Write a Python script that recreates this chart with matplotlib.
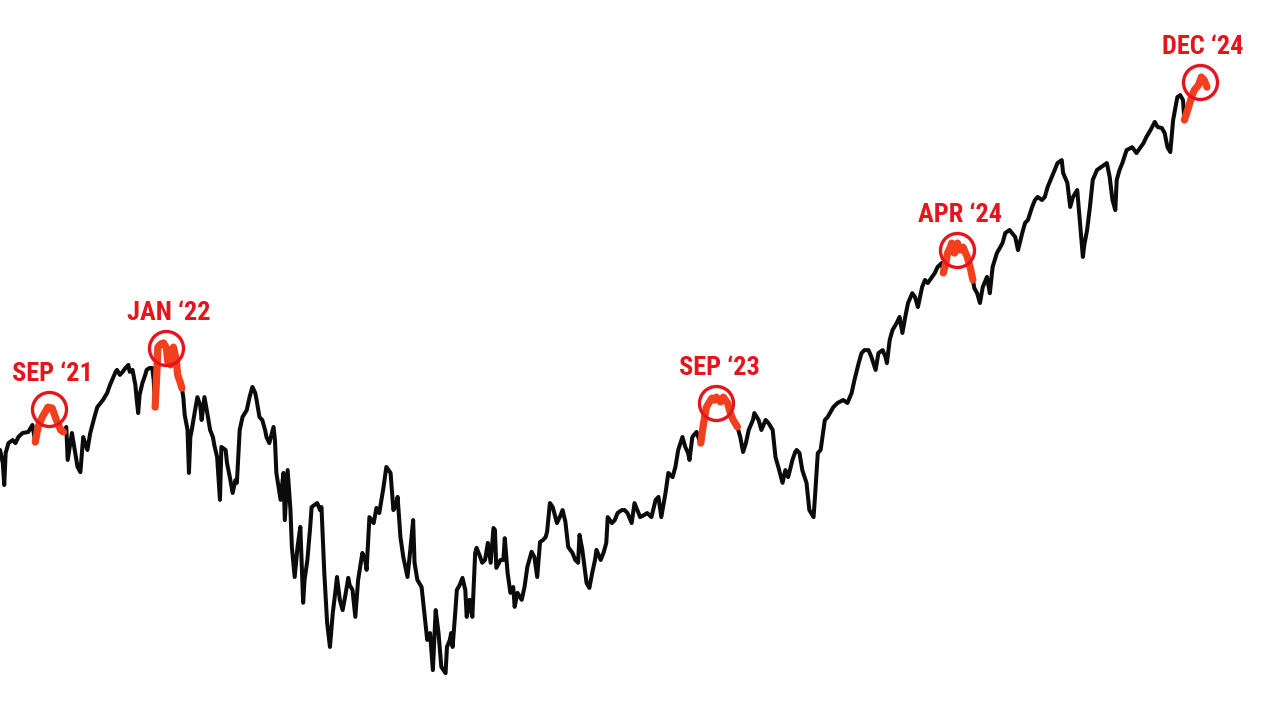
import matplotlib
matplotlib.use("Agg")
import matplotlib.pyplot as plt
from matplotlib import font_manager as fm

# ---- data: trading-session index and index level ----
session = [
    0, 2, 3, 4, 6, 9, 11, 13, 16, 20, 23,
    25, 27, 30, 34, 37, 40, 43, 45,
    47, 48, 51, 53, 55, 57, 59, 62, 64, 67, 69, 73, 76, 78, 82, 83, 85, 87, 89, 91, 92, 94, 96, 97, 98, 99,
    101, 103, 104, 106, 108, 109,
    110, 111, 112, 114, 116, 118, 119, 121, 122, 123, 125, 126, 128, 129,
    130, 131, 133, 134, 135, 136, 138, 140, 142, 143, 145, 147, 149, 151, 152, 154, 156, 157, 160, 161,
    163, 165, 167, 168, 169, 170, 172, 175, 177, 179, 181, 182, 184, 186, 188, 189, 191, 194, 195, 196,
    199, 201, 202, 204, 206, 207, 209, 211, 213, 215, 216, 218, 220, 221, 223, 225, 227, 228, 230, 232,
    234, 236, 238, 239, 241, 243, 245, 247, 248, 250, 252, 254, 257, 259, 260, 262, 265, 267, 269, 272,
    274, 277, 279, 281, 282, 284, 286, 289, 291, 293, 294, 296, 299, 301, 303, 305, 307, 309, 311, 313,
    316, 317, 319, 320, 321, 323, 324, 326, 328, 330, 331, 333, 335, 337, 338, 340, 342, 344, 346, 348,
    350, 351, 352, 355, 357, 358, 360, 362, 364, 365, 367, 370, 372, 374, 377, 379, 381, 383, 385, 387,
    388, 390, 392, 395, 397, 399, 401, 403, 406, 408, 410, 411, 413, 416, 418, 420, 422, 423, 426, 428,
    430, 431, 434, 436, 438, 441, 443, 445, 448, 450, 452, 454, 457, 459, 462, 465, 467, 469, 472, 474,
    477, 479, 481, 484, 486, 488, 489, 491, 494, 496,
    497, 499, 501, 504, 505, 507, 508, 511, 513, 516, 518, 520, 523,
    525, 527, 529, 531, 534, 535, 538, 540, 543, 545, 548, 550, 552, 555, 557, 559, 562, 564, 565, 567,
    569, 572, 574, 577, 578, 580, 582, 584, 585, 587, 591, 594, 598, 601, 604, 606, 609, 611, 613, 616,
    618, 621, 623, 626, 628, 629, 631, 633, 636, 638, 640, 642, 644, 647, 649, 651, 654, 656, 658, 661,
    663, 665, 668,
    669, 671, 672, 674, 675, 676, 677, 679, 681, 683, 686, 688, 690,
    691, 693, 695, 697, 700, 702, 704, 707, 711, 713, 716, 720, 722, 725, 727, 729, 732, 734, 736, 739,
    741, 743, 746, 748, 750, 753, 754, 757, 759, 761, 764, 765, 766, 767, 768, 769, 771, 773, 775, 778,
    781, 785, 787, 789, 791, 792, 794, 796, 799, 803, 806, 809, 811, 813, 816, 819, 821, 824, 826, 828,
    830, 832, 835, 837, 839,
    840, 843, 845, 847, 850, 852, 854, 856,
]
close = [
    4369, 4318, 4234, 4357, 4396, 4408, 4396, 4420, 4436, 4440, 4468,
    4400, 4460, 4500, 4540, 4536, 4488, 4448, 4440,
    4460, 4330, 4436, 4369, 4303, 4283, 4420, 4369, 4436, 4500, 4540, 4569, 4598, 4631, 4686, 4694, 4673, 4686, 4702, 4715, 4686, 4694, 4631, 4569, 4516, 4590,
    4639, 4673, 4694, 4702, 4702, 4652,
    4540, 4652, 4791, 4804, 4809, 4787, 4728, 4715, 4778, 4791, 4736, 4673, 4639, 4618,
    4581, 4508, 4448, 4280, 4420, 4448, 4516, 4581, 4548, 4488, 4581, 4516, 4448, 4420, 4388, 4341, 4178, 4381, 4369, 4318,
    4264, 4204, 4253, 4242, 4341, 4448, 4500, 4528, 4581, 4623, 4598, 4569, 4500, 4488, 4448, 4420, 4396, 4460, 4408, 4280,
    4178, 4280, 4103, 4291, 4140, 4005, 3899, 4005, 4078, 3810, 3889, 3959, 4078, 4151, 4159, 4166, 4140, 4151, 3913, 3742,
    3662, 3775, 3854, 3899, 3820, 3785, 3837, 3896, 3871, 3854, 3762, 3889, 3984, 3959, 3924, 4114, 4092, 4148, 4129, 4226,
    4303, 4280, 4140, 4159, 4189, 4041, 3970, 3899, 3995, 4103, 3949, 3889, 3864, 3775, 3685, 3708, 3587, 3785, 3708, 3597,
    3577, 3662, 3685, 3708, 3662, 3785, 3854, 3871, 3896, 3854, 3762, 3820, 3762, 3984, 4002, 3977, 3949, 3959, 4020, 3949,
    4074, 4067, 3931, 3959, 3959, 4037, 3913, 3844, 3864, 3796, 3844, 3820, 3864, 3934, 3988, 3970, 3899, 4023, 4030, 4041,
    4060, 4166, 4151, 4092, 4114, 4140, 4096, 4005, 3984, 3959, 3949, 4049, 3995, 3878, 3861, 3913, 3959, 3995, 3959, 3984,
    4020, 4114, 4092, 4103, 4129, 4140, 4140, 4129, 4092, 4166, 4140, 4114, 4122, 4129, 4114, 4178, 4189, 4114, 4204, 4280,
    4264, 4303, 4369, 4420, 4381, 4357, 4330, 4420, 4440, 4408,
    4396, 4476, 4540, 4569, 4577, 4569, 4581, 4561, 4581, 4557, 4516, 4488, 4460,
    4420, 4361, 4396, 4448, 4488, 4516, 4488, 4448, 4488, 4476, 4448, 4341, 4303, 4242, 4291, 4264, 4330, 4361, 4369, 4357,
    4291, 4242, 4140, 4114, 4189, 4357, 4369, 4448, 4488, 4500, 4540, 4557, 4569, 4557, 4598, 4652, 4723, 4765, 4778, 4778,
    4749, 4694, 4765, 4778, 4749, 4723, 4822, 4865, 4896, 4922, 4852, 4922, 4984, 5028, 5010, 4966, 5056, 5088, 5074, 5102,
    5120, 5148, 5166,
    5120, 5171, 5212, 5240, 5259, 5217, 5212, 5259, 5226, 5240, 5194, 5148, 5088,
    5051, 5028, 4984, 5056, 5102, 5028, 5148, 5212, 5259, 5307, 5321, 5288, 5226, 5307, 5355, 5369, 5432, 5466, 5481, 5466,
    5481, 5530, 5580, 5615, 5650, 5665, 5600, 5550, 5432, 5481, 5515, 5432, 5345, 5274, 5194, 5250, 5321, 5432, 5565, 5615,
    5630, 5650, 5580, 5466, 5417, 5565, 5615, 5650, 5716, 5731, 5701, 5731, 5752, 5783, 5820, 5862, 5836, 5830, 5804, 5731,
    5706, 5872, 5994, 6005, 5978,
    5872, 5941, 5994, 6032, 6059, 6103, 6087, 6048,
]

# highlighted stretches (first and last session) with their labels
highlight_start = [25, 110, 497, 669, 840]
highlight_end = [45, 129, 523, 690, 856]
highlight_label = ["SEP \u201821", "JAN \u201822", "SEP \u201823", "APR \u201824", "DEC \u201824"]
circle_session = [35, 118, 508, 679, 851]
circle_level = [4532, 4787, 4557, 5226, 6076]

# ---- font selection (condensed bold look) ----
fonts = fm.fontManager.ttflist
names = {f.name for f in fonts}
lab_family, lab_stretch, lab_size = None, "normal", 19
for cand in ["Liberation Sans Narrow", "Roboto Condensed", "Open Sans Condensed",
             "Noto Sans Condensed", "Noto Sans SemiCondensed"]:
    if cand in names:
        lab_family = cand
        break
if lab_family is None:
    if any(f.name == "Noto Sans" and "condensed" in str(f.stretch) and "semi" not in str(f.stretch)
           for f in fonts):
        lab_family, lab_stretch = "Noto Sans", "condensed"
    elif any(f.name == "DejaVu Sans" and "condensed" in str(f.stretch) for f in fonts):
        lab_family, lab_stretch, lab_size = "DejaVu Sans", "condensed", 17.5
    else:
        lab_family, lab_size = "Roboto", 18

LINE = "#0b0b0b"
HL = "#f2401f"
RED = "#e3161d"

fig = plt.figure(figsize=(12.8, 7.2), dpi=100)
fig.patch.set_facecolor("white")
ax = fig.add_axes([0, 0, 1, 1])
ax.set_facecolor("white")

ax.plot(session, close, color=LINE, lw=2.9, solid_joinstyle="round", solid_capstyle="round", zorder=2)

for s0, s1 in zip(highlight_start, highlight_end):
    xs = [s for s in session if s0 <= s <= s1]
    ys = [c for s, c in zip(session, close) if s0 <= s <= s1]
    ax.plot(xs, ys, color=HL, lw=5.2, solid_joinstyle="round", solid_capstyle="round", zorder=3)

for cs, cl, lab in zip(circle_session, circle_level, highlight_label):
    ax.plot([cs], [cl], marker="o", markersize=24.5, markerfacecolor="none",
            markeredgecolor=RED, markeredgewidth=2.4, zorder=4)
    ax.annotate(lab, xy=(cs, cl), xytext=(2, 25), textcoords="offset points",
                ha="center", va="center", color=RED, fontsize=lab_size,
                fontweight="bold", family=lab_family, fontstretch=lab_stretch, zorder=5)

ax.set_yscale("log")
ax.set_xlim(0, 1280 / 1.41)
ax.set_ylim(3430, 6539)
ax.axis("off")

fig.savefig("out.png", dpi=100, facecolor="white")
